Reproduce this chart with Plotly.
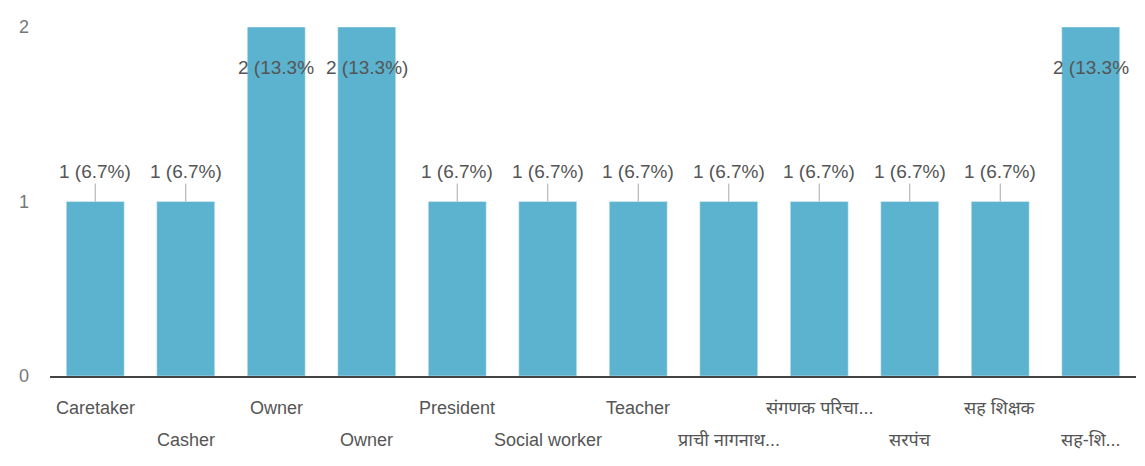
import plotly.graph_objects as go

# Respostas (ocupação)
categories = ['Caretaker', 'Casher', 'Owner', 'Owner', 'President', 'Social worker',
              'Teacher', 'प्राची नागनाथ...', 'संगणक परिचा...', 'सरपंच', 'सह शिक्षक', 'सह-शि...']
counts = [1, 1, 2, 2, 1, 1, 1, 1, 1, 1, 1, 2]
labels = ['1 (6.7%)', '1 (6.7%)', '2 (13.3%', '2 (13.3%)', '1 (6.7%)', '1 (6.7%)',
          '1 (6.7%)', '1 (6.7%)', '1 (6.7%)', '1 (6.7%)', '1 (6.7%)', '2 (13.3%']
posicoes = list(range(len(categories)))

bar_color = '#5cb3cf'
text_color = '#555555'
font_family = 'Liberation Sans, Arial, Noto Sans, sans-serif'

fig = go.Figure()
fig.add_trace(go.Bar(
    x=posicoes,
    y=counts,
    marker_color=bar_color,
    width=0.64,
    hoverinfo='skip'
))

# Rótulos de dados (estilo Google Forms)
for i, (v, t) in enumerate(zip(counts, labels)):
    if v == max(counts):
        fig.add_annotation(x=i, y=v, text=t, showarrow=True, arrowhead=0,
                           arrowwidth=1, arrowcolor='rgba(255,255,255,0)',
                           ax=0, ay=40, font=dict(size=19, color=text_color))
    else:
        fig.add_annotation(x=i, y=v, text=t, showarrow=True, arrowhead=0,
                           arrowwidth=1, arrowcolor='#aaaaaa', standoff=0,
                           ax=0, ay=-30, font=dict(size=19, color=text_color))

# Rótulos do eixo x em duas linhas alternadas
for i, c in enumerate(categories):
    fig.add_annotation(x=i, y=0, xref='x', yref='paper', text=c, showarrow=False,
                       yanchor='middle', yshift=-32 if i % 2 == 0 else -64,
                       font=dict(size=18, color='#555555'))

fig.update_layout(
    width=1137, height=458,
    margin=dict(l=42, r=9, t=12, b=90),
    plot_bgcolor='white',
    paper_bgcolor='white',
    showlegend=False,
    font=dict(family=font_family, size=18, color=text_color),
    xaxis=dict(
        range=[-0.5, 11.5], showticklabels=False,
        showline=True, linecolor='#444444', linewidth=2,
        showgrid=False, ticks='', zeroline=False
    ),
    yaxis=dict(
        range=[0, 2], tickvals=[0, 1, 2],
        showgrid=False, zeroline=False, ticks='',
        ticklabelstandoff=20,
        tickfont=dict(size=18, color='#777777')
    )
)

fig.write_html('out.html')
